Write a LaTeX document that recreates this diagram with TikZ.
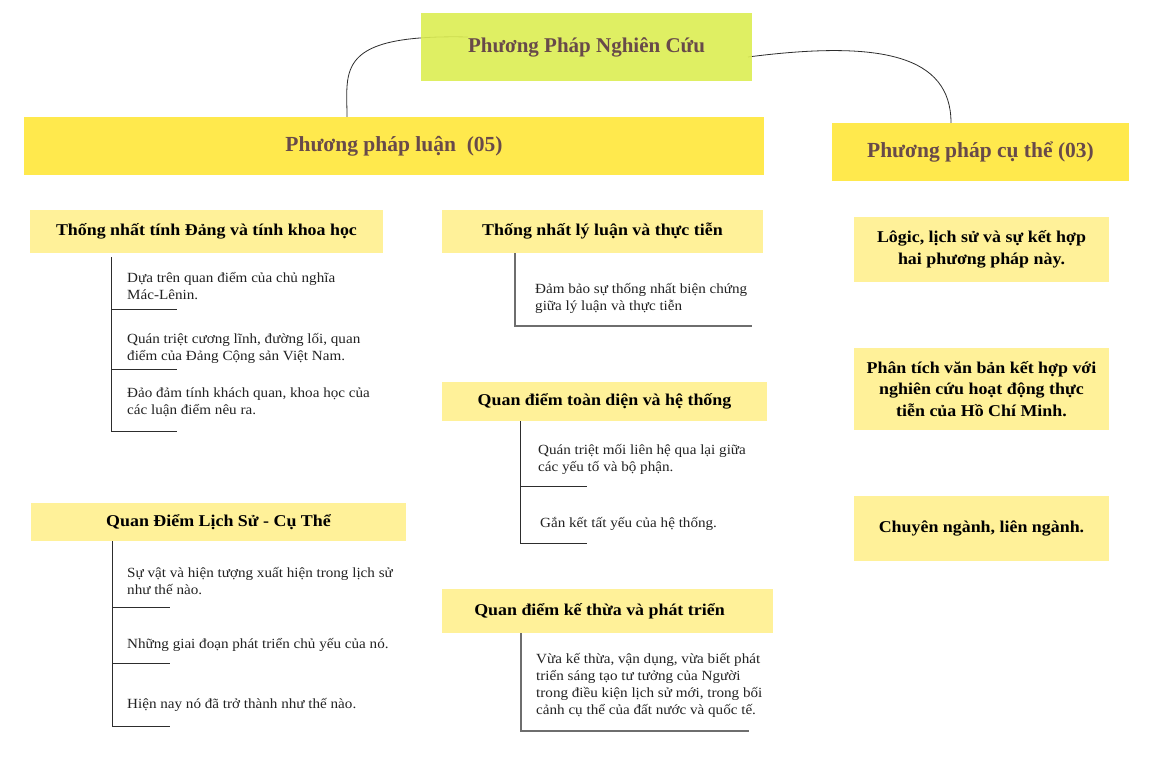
\documentclass[tikz,border=0pt]{standalone}
\usepackage{fontspec}
\setmainfont{Liberation Serif}
\newfontfamily\widefont[FakeStretch=1.08]{Liberation Serif}
\newfontfamily\boldwide[FakeStretch=1.085]{Liberation Serif}
\usetikzlibrary{calc}
\definecolor{titlebg}{RGB}{220,238,83}
\definecolor{lvlone}{RGB}{255,233,77}
\definecolor{lvltwo}{RGB}{255,241,153}
\definecolor{brownink}{RGB}{104,74,74}
\definecolor{ink}{RGB}{34,34,34}
\definecolor{wire}{RGB}{45,45,45}
\definecolor{graywire}{RGB}{110,110,110}
\tikzset{
  titlebox/.style={fill=titlebg, fill opacity=0.9, text opacity=1, inner sep=0, text=brownink, font=\bfseries\fontsize{21}{25}\selectfont},
  onebox/.style={fill=lvlone, inner sep=0, text=brownink, font=\bfseries\fontsize{21.5}{25}\selectfont},
  twobox/.style={fill=lvltwo, inner sep=0, text=black, font=\boldwide\bfseries\fontsize{16.5}{20}\selectfont},
  sidebox/.style={fill=lvltwo, inner sep=0, text=black, align=center, font=\boldwide\bfseries\fontsize{16.5}{21.5}\selectfont},
  leaf/.style={anchor=west, inner sep=0, align=left, text=ink, font=\widefont\fontsize{14}{17}\selectfont},
  wireline/.style={draw=wire, line width=0.9pt},
  grayline/.style={draw=graywire, line width=1.2pt},
  conn/.style={draw=wire, line width=0.8pt}
}
\begin{document}
\begin{tikzpicture}[x=1pt,y=-1pt]
\useasboundingbox[fill=white] (0,0) rectangle (1165,760);

% connector end points
\coordinate (ts) at (468,37);
\coordinate (tr) at (748,57);

% main boxes
\node[onebox, minimum width=740, minimum height=58] (luan) at (394,146) {Phương pháp luận\ \ (05)};
\node[onebox, minimum width=297, minimum height=58] (cuthe) at (980.5,152) {Phương pháp cụ thể (03)};
\coordinate (le) at (luan.north -| 347,0);
\coordinate (re) at (cuthe.north -| 951,0);

% connectors (drawn under the title box)
\draw[conn] (ts) .. controls (335,34) and (347,70) .. (le);
\draw[conn] (tr) .. controls (880,40) and (951,55) .. (re);

\node[titlebox, minimum width=331, minimum height=68] (title) at (586.5,47) {\raisebox{3pt}{Phương Pháp Nghiên Cứu}};

% left column
\node[twobox, minimum width=353, minimum height=43] (h1) at (206.5,231.5) {Thống nhất tính Đảng và tính khoa học};
\node[leaf] (a1) at (127,286.5) {Dựa trên quan điểm của chủ nghĩa\\Mác-Lênin.};
\node[leaf] (a2) at (127,348.5) {Quán triệt cương lĩnh, đường lối, quan\\điểm của Đảng Cộng sản Việt Nam.};
\node[leaf] (a3) at (127,402.5) {Đảo đảm tính khách quan, khoa học của\\các luận điểm nêu ra.};
\coordinate (av) at (111,431);
\draw[wireline] (h1.south -| av) ++(0,4) -- (av) -- ++(66,0);
\draw[wireline] (av |- 0,309) -- ++(66,0);
\draw[wireline] (av |- 0,369) -- ++(66,0);

\node[twobox, minimum width=375, minimum height=38] (h2) at (218.5,522) {Quan Điểm Lịch Sử - Cụ Thể};
\node[leaf] (b1) at (127,581.5) {Sự vật và hiện tượng xuất hiện trong lịch sử\\như thế nào.};
\node[leaf] (b2) at (127,645) {Những giai đoạn phát triển chủ yếu của nó.};
\node[leaf] (b3) at (127,705) {Hiện nay nó đã trở thành như thế nào.};
\coordinate (bv) at (112,726);
\draw[wireline] (h2.south -| bv) -- (bv) -- ++(58,0);
\draw[wireline] (bv |- 0,607) -- ++(58,0);
\draw[wireline] (bv |- 0,663) -- ++(58,0);

% middle column
\node[twobox, minimum width=321, minimum height=43] (m1) at (602.5,231.5) {Thống nhất lý luận và thực tiễn};
\node[leaf] (c1) at (535,298.5) {Đảm bảo sự thống nhất biện chứng\\giữa lý luận và thực tiễn};
\coordinate (cv) at (515,326);
\draw[grayline] (m1.south -| cv) -- (cv) -- (752,326);

\node[twobox, minimum width=325, minimum height=39] (m2) at (604.5,401.5) {Quan điểm toàn diện và hệ thống};
\node[leaf] (d1) at (538,459.5) {Quán triệt mối liên hệ qua lại giữa\\các yếu tố và bộ phận.};
\node[leaf] (d2) at (540,524) {Gắn kết tất yếu của hệ thống.};
\coordinate (dv) at (520,543);
\draw[wireline] (m2.south -| dv) -- (dv) -- ++(67,0);
\draw[wireline] (dv |- 0,486) -- ++(67,0);

\node[twobox, minimum width=331, minimum height=44] (m3) at (607.5,611) {\hspace*{-16pt}Quan điểm kế thừa và phát triển};
\node[leaf] (e1) at (536,685.5) {Vừa kế thừa, vận dụng, vừa biết phát\\triển sáng tạo tư tưởng của Người\\trong điều kiện lịch sử mới, trong bối\\cảnh cụ thể của đất nước và quốc tế.};
\coordinate (ev) at (521,731);
\draw[grayline] (m3.south -| ev) -- (ev) -- (749,731);

% right column
\node[sidebox, minimum width=255, minimum height=65] (r1) at (981.5,249.5) {Lôgic, lịch sử và sự kết hợp\\hai phương pháp này.};
\node[sidebox, minimum width=255, minimum height=82] (r2) at (981.5,389) {Phân tích văn bản kết hợp với\\nghiên cứu hoạt động thực\\tiễn của Hồ Chí Minh.};
\node[sidebox, minimum width=255, minimum height=65] (r3) at (981.5,528.5) {Chuyên ngành, liên ngành.};
\end{tikzpicture}
\end{document}
